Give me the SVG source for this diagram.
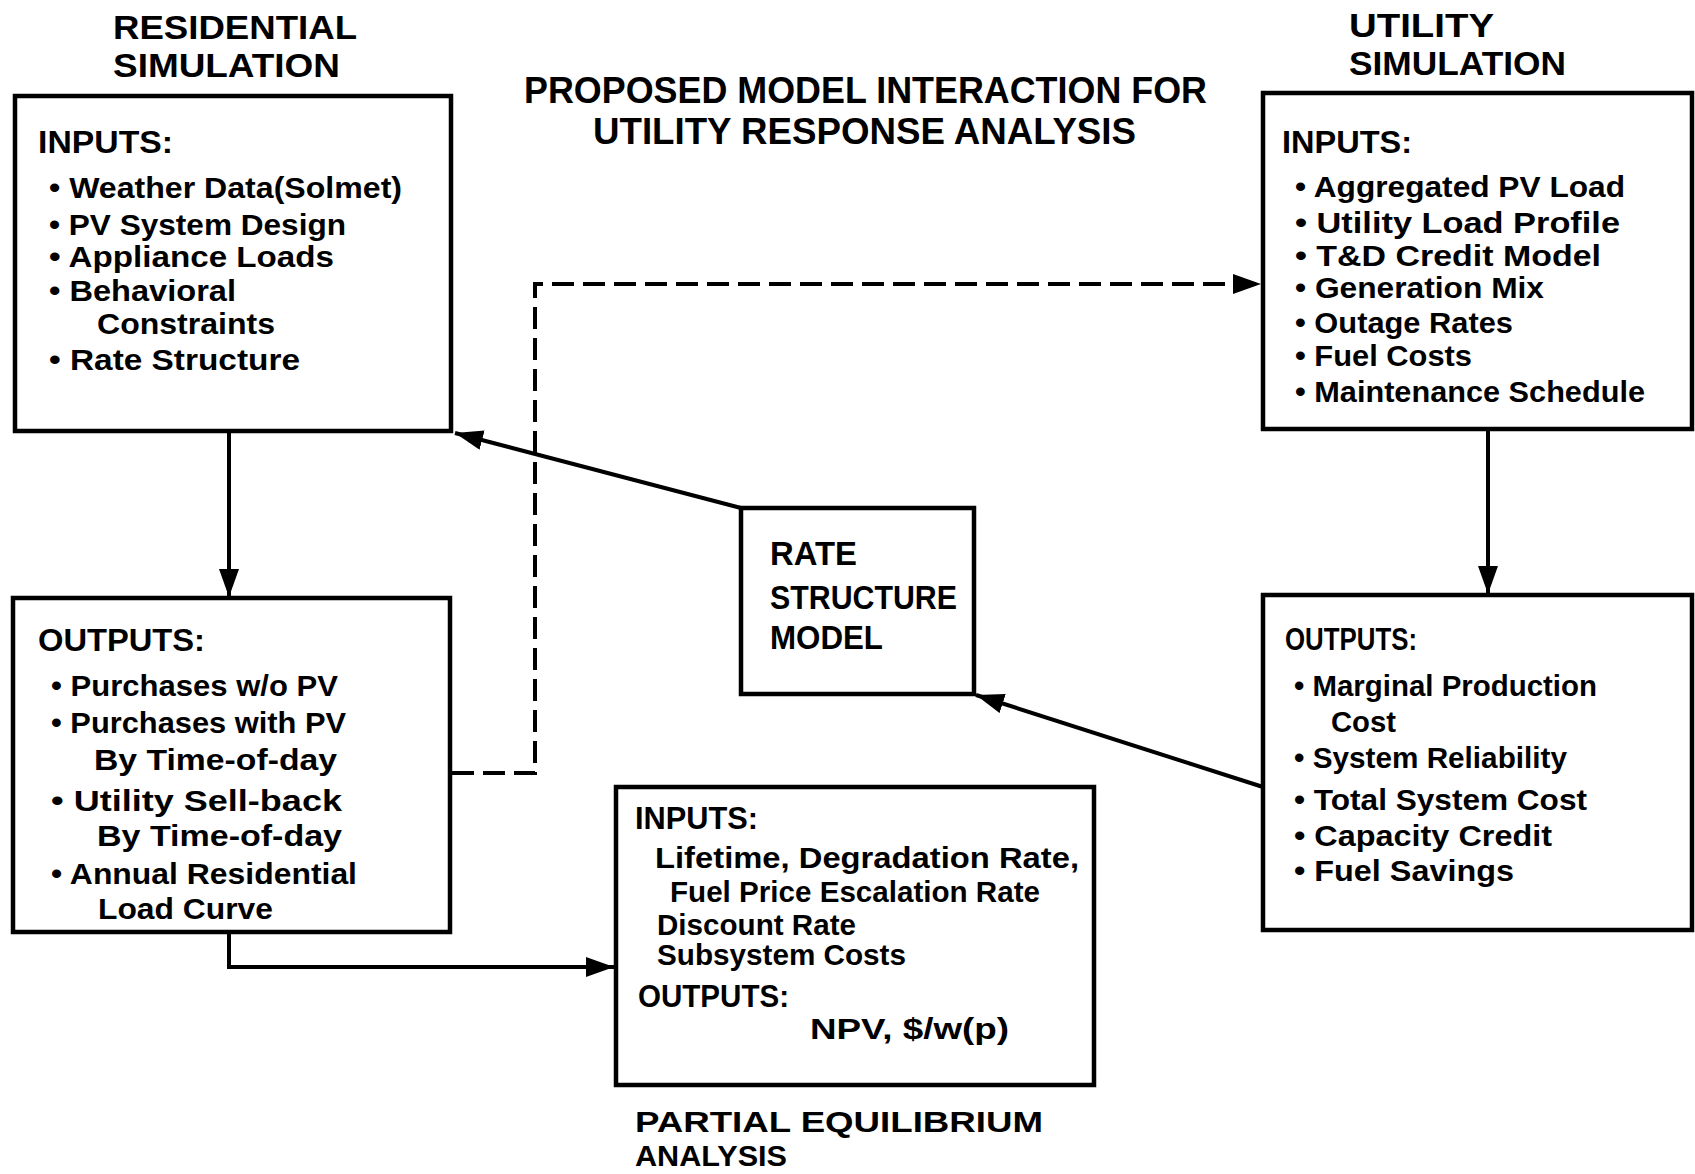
<svg xmlns="http://www.w3.org/2000/svg" width="1695" height="1174" viewBox="0 0 1695 1174">
<style>
text{font-family:"Liberation Sans",Arial,sans-serif;font-weight:bold;fill:#000}
.h{font-size:33px}
.p{font-size:30px}
.t{font-size:36px}
.hd{font-size:32px}
.b{font-size:29px}
.r{font-size:33px}
.box{fill:#fff;stroke:#000;stroke-width:4.5}
.c{fill:none;stroke:#000;stroke-width:4}
.d{fill:none;stroke:#000;stroke-width:4;stroke-dasharray:22 9}
</style>
<defs>
<marker id="ah" markerUnits="userSpaceOnUse" markerWidth="30" markerHeight="22" refX="28" refY="10" orient="auto">
<path d="M0,0 L28,10 L0,20 Z" fill="#000"/>
</marker>
</defs>
<rect width="1695" height="1174" fill="#fff"/>

<g id="title">
<text class="t" x="524" y="103" textLength="683" lengthAdjust="spacingAndGlyphs">PROPOSED MODEL INTERACTION FOR</text>
<text class="t" x="593" y="144" textLength="543" lengthAdjust="spacingAndGlyphs">UTILITY RESPONSE ANALYSIS</text>
</g>

<g id="connectors">
<line class="c" x1="229" y1="432" x2="229" y2="597" marker-end="url(#ah)"/>
<line class="c" x1="1488" y1="431" x2="1488" y2="594" marker-end="url(#ah)"/>
<polyline class="c" points="229,934 229,967 614,967" marker-end="url(#ah)"/>
<polyline class="d" points="452,773 535,773 535,284 1261,284" marker-end="url(#ah)"/>
<line class="c" x1="741" y1="508" x2="455" y2="433" marker-end="url(#ah)"/>
<line class="c" x1="1263" y1="787" x2="976" y2="695" marker-end="url(#ah)"/>
</g>

<g id="residential-inputs">
<text class="h" x="113" y="39" textLength="244" lengthAdjust="spacingAndGlyphs">RESIDENTIAL</text>
<text class="h" x="113" y="77" textLength="227" lengthAdjust="spacingAndGlyphs">SIMULATION</text>
<rect class="box" x="15" y="96" width="436" height="335"/>
<text class="hd" x="38" y="153" textLength="135" lengthAdjust="spacingAndGlyphs">INPUTS:</text>
<text class="b" x="49" y="198" textLength="353" lengthAdjust="spacingAndGlyphs">• Weather Data(Solmet)</text>
<text class="b" x="49" y="235" textLength="297" lengthAdjust="spacingAndGlyphs">• PV System Design</text>
<text class="b" x="49" y="267" textLength="285" lengthAdjust="spacingAndGlyphs">• Appliance Loads</text>
<text class="b" x="49" y="301" textLength="187" lengthAdjust="spacingAndGlyphs">• Behavioral</text>
<text class="b" x="97" y="334" textLength="178" lengthAdjust="spacingAndGlyphs">Constraints</text>
<text class="b" x="49" y="370" textLength="251" lengthAdjust="spacingAndGlyphs">• Rate Structure</text>
</g>

<g id="residential-outputs">
<rect class="box" x="13" y="598" width="437" height="334"/>
<text class="hd" x="38" y="651" textLength="167" lengthAdjust="spacingAndGlyphs">OUTPUTS:</text>
<text class="b" x="51" y="696" textLength="287" lengthAdjust="spacingAndGlyphs">• Purchases w/o PV</text>
<text class="b" x="51" y="733" textLength="295" lengthAdjust="spacingAndGlyphs">• Purchases with PV</text>
<text class="b" x="94" y="770" textLength="243" lengthAdjust="spacingAndGlyphs">By Time-of-day</text>
<text class="b" x="51" y="811" textLength="291" lengthAdjust="spacingAndGlyphs">• Utility  Sell-back</text>
<text class="b" x="97" y="846" textLength="245" lengthAdjust="spacingAndGlyphs">By Time-of-day</text>
<text class="b" x="51" y="884" textLength="306" lengthAdjust="spacingAndGlyphs">• Annual Residential</text>
<text class="b" x="98" y="919" textLength="175" lengthAdjust="spacingAndGlyphs">Load Curve</text>
</g>

<g id="utility-inputs">
<text class="h" x="1349" y="37" textLength="145" lengthAdjust="spacingAndGlyphs">UTILITY</text>
<text class="h" x="1349" y="75" textLength="217" lengthAdjust="spacingAndGlyphs">SIMULATION</text>
<rect class="box" x="1263" y="93" width="429" height="336"/>
<text class="hd" x="1282" y="153" textLength="130" lengthAdjust="spacingAndGlyphs">INPUTS:</text>
<text class="b" x="1295" y="197" textLength="330" lengthAdjust="spacingAndGlyphs">• Aggregated PV Load</text>
<text class="b" x="1295" y="233" textLength="325" lengthAdjust="spacingAndGlyphs">• Utility Load Profile</text>
<text class="b" x="1295" y="266" textLength="306" lengthAdjust="spacingAndGlyphs">• T&amp;D Credit Model</text>
<text class="b" x="1295" y="298" textLength="249" lengthAdjust="spacingAndGlyphs">• Generation Mix</text>
<text class="b" x="1295" y="333" textLength="218" lengthAdjust="spacingAndGlyphs">• Outage Rates</text>
<text class="b" x="1295" y="366" textLength="177" lengthAdjust="spacingAndGlyphs">• Fuel Costs</text>
<text class="b" x="1295" y="402" textLength="350" lengthAdjust="spacingAndGlyphs">• Maintenance Schedule</text>
</g>

<g id="utility-outputs">
<rect class="box" x="1263" y="595" width="429" height="335"/>
<text class="hd" x="1285" y="650" textLength="132" lengthAdjust="spacingAndGlyphs">OUTPUTS:</text>
<text class="b" x="1294" y="696" textLength="303" lengthAdjust="spacingAndGlyphs">• Marginal Production</text>
<text class="b" x="1331" y="732" textLength="65" lengthAdjust="spacingAndGlyphs">Cost</text>
<text class="b" x="1294" y="768" textLength="273" lengthAdjust="spacingAndGlyphs">• System Reliability</text>
<text class="b" x="1294" y="810" textLength="293" lengthAdjust="spacingAndGlyphs">• Total System Cost</text>
<text class="b" x="1294" y="846" textLength="258" lengthAdjust="spacingAndGlyphs">• Capacity Credit</text>
<text class="b" x="1294" y="881" textLength="220" lengthAdjust="spacingAndGlyphs">• Fuel Savings</text>
</g>

<g id="rate-structure-model">
<rect class="box" x="741" y="508" width="233" height="186"/>
<text class="r" x="770" y="565" textLength="87" lengthAdjust="spacingAndGlyphs">RATE</text>
<text class="r" x="770" y="609" textLength="187" lengthAdjust="spacingAndGlyphs">STRUCTURE</text>
<text class="r" x="770" y="649" textLength="113" lengthAdjust="spacingAndGlyphs">MODEL</text>
</g>

<g id="partial-equilibrium">
<rect class="box" x="616" y="787" width="478" height="298"/>
<text class="hd" x="635" y="829" textLength="123" lengthAdjust="spacingAndGlyphs">INPUTS:</text>
<text class="b" x="655" y="868" textLength="424" lengthAdjust="spacingAndGlyphs">Lifetime, Degradation Rate,</text>
<text class="b" x="670" y="902" textLength="370" lengthAdjust="spacingAndGlyphs">Fuel Price Escalation Rate</text>
<text class="b" x="657" y="935" textLength="199" lengthAdjust="spacingAndGlyphs">Discount Rate</text>
<text class="b" x="657" y="965" textLength="249" lengthAdjust="spacingAndGlyphs">Subsystem Costs</text>
<text class="hd" x="638" y="1007" textLength="151" lengthAdjust="spacingAndGlyphs">OUTPUTS:</text>
<text class="b" x="810" y="1039" textLength="199" lengthAdjust="spacingAndGlyphs">NPV, $/w(p)</text>
<text class="p" x="635" y="1132" textLength="408" lengthAdjust="spacingAndGlyphs">PARTIAL  EQUILIBRIUM</text>
<text class="p" x="635" y="1166" textLength="152" lengthAdjust="spacingAndGlyphs">ANALYSIS</text>
</g>
</svg>
